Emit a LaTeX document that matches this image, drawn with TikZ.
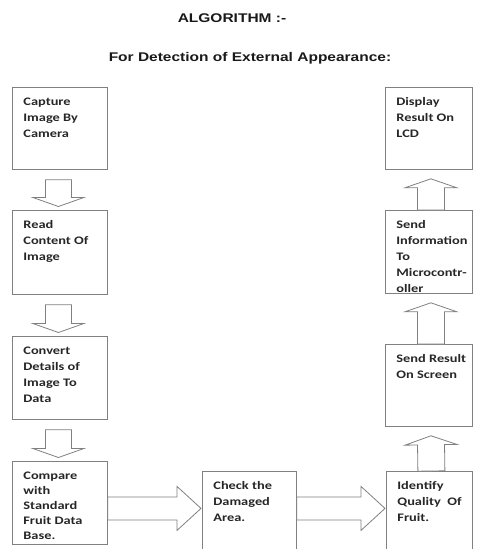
\documentclass[tikz,border=0pt]{standalone}
\usepackage{fontspec}
\setmainfont[FakeStretch=1.25]{Carlito}
\newfontfamily\headfont[FakeStretch=1.23]{Liberation Sans}
\usetikzlibrary{calc}

\newcommand{\boxtext}[3]{\parbox[t][#1][t]{#2}{\raggedright\strut #3}}
% block arrow: shaft half width, head half width, head length, start, tip
\newcommand{\blockarrow}[5]{%
  \draw[blk] let \p1=#4, \p2=#5, \n1={atan2(\y2-\y1,\x2-\x1)}, \n2={veclen(\x2-\x1,\y2-\y1)} in
    [shift={(\p1)}, rotate=\n1]
    (0pt,#1pt) -- ({\n2*1pt-#3pt},#1pt) -- ({\n2*1pt-#3pt},#2pt) -- ({\n2*1pt},0pt)
    -- ({\n2*1pt-#3pt},-#2pt) -- ({\n2*1pt-#3pt},-#1pt) -- (0pt,-#1pt) -- cycle;}

\begin{document}
\begin{tikzpicture}[x=1pt, y=-1pt,
  box/.style={draw=black!50, line width=0.8pt, anchor=north west, inner xsep=11pt, inner ysep=7pt, text=black!85, font=\bfseries\fontsize{11.5}{16}\selectfont},
  blk/.style={draw=black!50, line width=0.8pt, fill=white},
  heading/.style={text=black!90, font=\headfont\bfseries\fontsize{12.6}{15}\selectfont}]
  \useasboundingbox (0,0) rectangle (477,549);
  \clip (0,0) rectangle (477,549);
  \node[heading] (title) at (232,18) {ALGORITHM :-};
  \node[heading] (subtitle) at (250,58) {For Detection of External Appearance:};
  % left column
  \node[box] (capture) at (12,87) {\boxtext{68pt}{73pt}{Capture\\ Image By\\ Camera}};
  \node[box] (read) at (12,210) {\boxtext{70pt}{73pt}{Read\\ Content Of\\ Image}};
  \node[box] (convert) at (12,336) {\boxtext{69pt}{73pt}{Convert\\ Details of\\ Image To\\ Data}};
  \node[box] (compare) at (12,461) {\boxtext{69pt}{73pt}{\fontsize{11.5}{15}\selectfont Compare\\ with\\ Standard\\ Fruit Data\\ Base.}};
  % bottom row
  \node[box] (check) at (202,471) {\boxtext{80pt}{72pt}{Check the\\ Damaged\\ Area.}};
  \node[box] (identify) at (386,471) {\boxtext{80pt}{64pt}{\mbox{Identify}\\ \mbox{Quality~ Of}\\ Fruit.}};
  % right column
  \node[box] (result) at (385,344) {\boxtext{68pt}{65pt}{\mbox{Send Result}\\ \mbox{On Screen}}};
  \node[box] (inform) at (385,210) {\boxtext{69pt}{65pt}{Send\\ \mbox{Information}\\ To\\ \mbox{Microcontr-}\\ oller}};
  \node[box] (display) at (385,87) {\boxtext{68pt}{65pt}{Display\\ \mbox{Result On}\\ LCD}};
  % arrows
  \foreach \a/\b in {capture/read, read/convert, convert/compare}
    \blockarrow{13}{25.5}{9}{($(\a.south)+(-1.5,10)$)}{($(\b.north)+(-1.5,-3.5)$)};
  \foreach \a/\b in {inform/display, result/inform, identify/result}
    \blockarrow{13.5}{26}{9}{($(\a.north)+(2,0)$)}{($(\b.south)+(2,9)$)};
  \blockarrow{11.5}{22}{24}{($(compare.east)+(0,5.5)$)}{($(check.west|-compare.east)+(-1,5.5)$)};
  \blockarrow{11.5}{22}{24}{($(check.east|-compare.east)+(0,5.5)$)}{($(identify.west|-compare.east)+(-1,5.5)$)};
\end{tikzpicture}
\end{document}
